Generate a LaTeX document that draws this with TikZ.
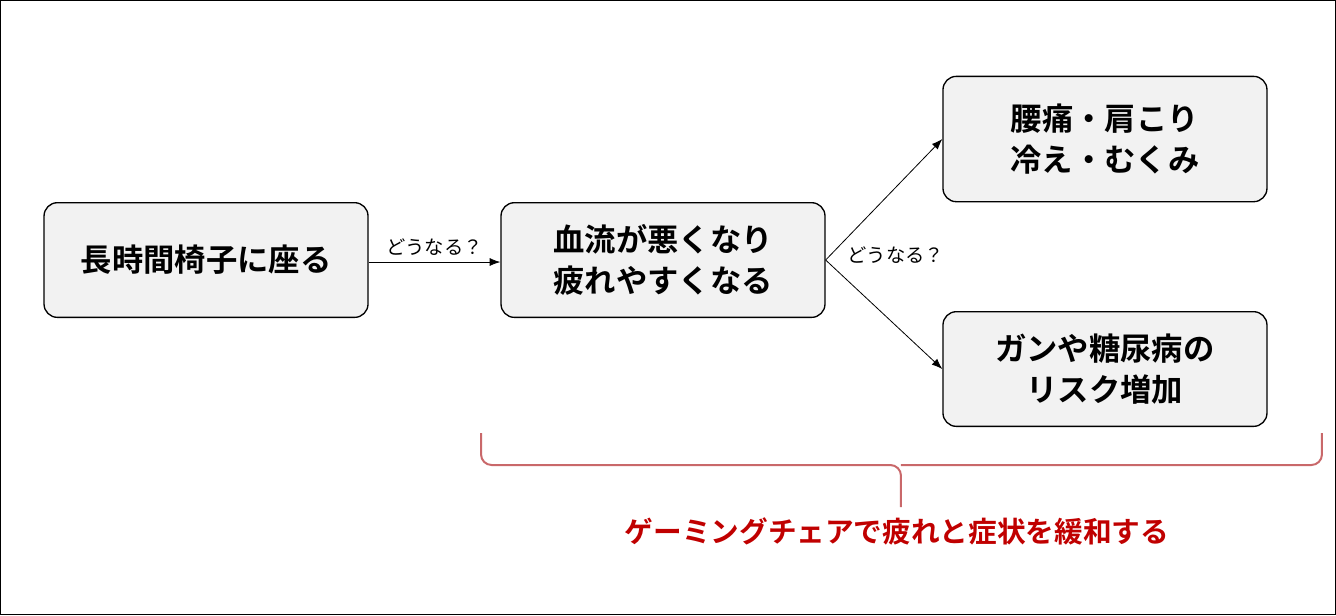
\documentclass[tikz,border=0pt]{standalone}
\usepackage{fontspec}
\newfontfamily\jp{Noto Sans CJK JP}
\newfontfamily\jpb{Noto Sans CJK JP Bold}
\usetikzlibrary{arrows.meta}
\definecolor{boxfill}{HTML}{F2F2F2}
\definecolor{brace}{HTML}{C9686A}
\definecolor{redtxt}{HTML}{C00000}
\tikzset{
 box/.style={draw=black, line width=1pt, fill=boxfill, rounded corners=10pt, align=center, font=\jpb\fontsize{23.5}{31}\selectfont, inner sep=0pt},
 conn/.style={-{Latex[length=8pt,width=6pt]}, line width=0.6pt},
 lbl/.style={font=\jp\fontsize{14.5}{17}\selectfont}
}
\begin{document}
\begin{tikzpicture}[x=0.75pt,y=-0.75pt]
\draw[line width=0.8pt] (0.5,0.5) rectangle (1335.5,614.5);
\useasboundingbox (0,0) rectangle (1336,615);
\node[box, minimum width=243pt, minimum height=86pt] (a) at (206,260) {長時間椅子に座る};
\node[box, minimum width=243pt, minimum height=86pt] (b) at (663,260) {血流が悪くなり\\疲れやすくなる};
\node[box, minimum width=243pt, minimum height=94pt] (c) at (1105,139) {腰痛・肩こり\\冷え・むくみ};
\node[box, minimum width=243pt, minimum height=86pt] (d) at (1105,369) {ガンや糖尿病の\\リスク増加};
\draw[conn] (a.east) ++(0,2) coordinate (a1) -- (b.west|-a1) node[pos=0.5, above=1pt, lbl] {どうなる？};
\draw[conn] (b.east) -- (c.west);
\draw[conn] (b.east) -- (d.west);
\node[lbl] (q2) at (896,255) {どうなる？};
\draw[brace, line width=1.5pt, rounded corners=8pt] (481,433) -- (481,465) -- (901,465) -- (901,507);
\draw[brace, line width=1.5pt, rounded corners=8pt] (1322,433) -- (1322,465) -- (901,465);
\node[font=\jpb\fontsize{21.5}{24}\selectfont, text=redtxt] (t) at (897,531) {ゲーミングチェアで疲れと症状を緩和する};
\end{tikzpicture}
\end{document}
